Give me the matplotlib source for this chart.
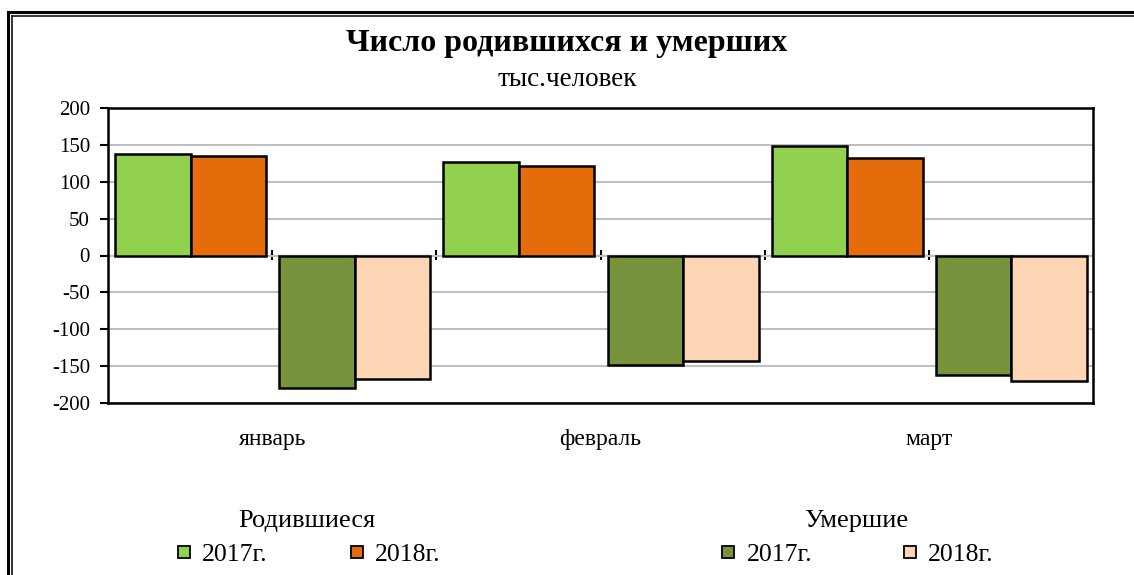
import matplotlib
matplotlib.use('Agg')
import matplotlib.pyplot as plt
from matplotlib.lines import Line2D

plt.rcParams['font.family'] = ['Liberation Serif', 'DejaVu Serif']
plt.rcParams['axes.unicode_minus'] = False

months = ['январь', 'февраль', 'март']
births_2017 = [138, 127, 149]
births_2018 = [135, 122, 132]
deaths_2017 = [-180, -148, -162]
deaths_2018 = [-167, -143, -170]
year_labels = ['2017г.', '2018г.']

colors_births = ['#92D050', '#E46C0A']
colors_deaths = ['#77933C', '#FCD5B5']

W, H = 1134, 575
fig = plt.figure(figsize=(W / 100, H / 100), dpi=100)
ax = fig.add_axes([108 / W, 1 - 403 / H, (1093 - 108) / W, (403 - 108) / H])

bar_w = 0.46
off = 0.043
birth_pos = [2 * i for i in range(len(months))]
death_pos = [2 * i + 1 for i in range(len(months))]
for k, vals in enumerate([births_2017, births_2018]):
    ax.bar([p + off + k * bar_w for p in birth_pos], vals, width=bar_w,
           align='edge', color=colors_births[k], edgecolor='black',
           linewidth=1.8, zorder=3)
for k, vals in enumerate([deaths_2017, deaths_2018]):
    ax.bar([p + off + k * bar_w for p in death_pos], vals, width=bar_w,
           align='edge', color=colors_deaths[k], edgecolor='black',
           linewidth=1.8, zorder=3)

ax.set_xlim(0, 2 * len(months))
ax.set_ylim(-200, 200)
ax.set_yticks(range(-200, 201, 50))
ax.yaxis.grid(True, color='#c0c0c0', linewidth=1.5, zorder=0)
ax.set_axisbelow(True)
ax.tick_params(axis='y', direction='out', length=6, width=1.5,
               labelsize=15, pad=7)
ax.set_xticks([2 * i + 1 for i in range(len(months))])
ax.set_xticklabels(months)
ax.tick_params(axis='x', length=0, labelsize=17, pad=19)
for s in ax.spines.values():
    s.set_linewidth(1.8)

# zero line with category separators
sec = ax.secondary_xaxis(0.5)
sec.set_xticks(range(1, 2 * len(months)))
sec.tick_params(direction='inout', length=7, width=1.5, labelbottom=False,
                labeltop=False)
sec.spines['bottom'].set_linewidth(2.2)

fig.text(0.5, 1 - 44 / H, 'Число родившихся и умерших', ha='center',
         va='center', fontsize=23, fontweight='bold')
fig.text(0.5, 1 - 80 / H, 'тыс.человек', ha='center', va='center',
         fontsize=19.5)


def handles(cols):
    return [Line2D([], [], marker='s', linestyle='none', markersize=8,
                   markerfacecolor=c, markeredgecolor='black',
                   markeredgewidth=1.3) for c in cols]


leg_kw = dict(ncol=2, frameon=False, fontsize=18.5, title_fontsize=19,
              handlelength=0.8, handletextpad=0.3, labelspacing=0.45,
              loc='center', borderaxespad=0)
leg1 = fig.legend(handles(colors_births), year_labels, title='Родившиеся',
                  bbox_to_anchor=(307 / W, 1 - 538 / H), columnspacing=3.07,
                  **leg_kw)
leg2 = fig.legend(handles(colors_deaths), year_labels, title='Умершие',
                  bbox_to_anchor=(856 / W, 1 - 538 / H), columnspacing=3.42,
                  **leg_kw)

# double outer frame
fig.add_artist(Line2D([8 / W, 1.01], [1 - 12 / H, 1 - 12 / H],
                      transform=fig.transFigure, color='black', lw=2.2))
fig.add_artist(Line2D([11.5 / W, 1.01], [1 - 15.5 / H, 1 - 15.5 / H],
                      transform=fig.transFigure, color='black', lw=1.1))
fig.add_artist(Line2D([8 / W, 8 / W], [1 - 12 / H, -0.01],
                      transform=fig.transFigure, color='black', lw=2.2))
fig.add_artist(Line2D([11.5 / W, 11.5 / W], [1 - 15.5 / H, -0.01],
                      transform=fig.transFigure, color='black', lw=1.1))

fig.savefig('out.png', dpi=100)
